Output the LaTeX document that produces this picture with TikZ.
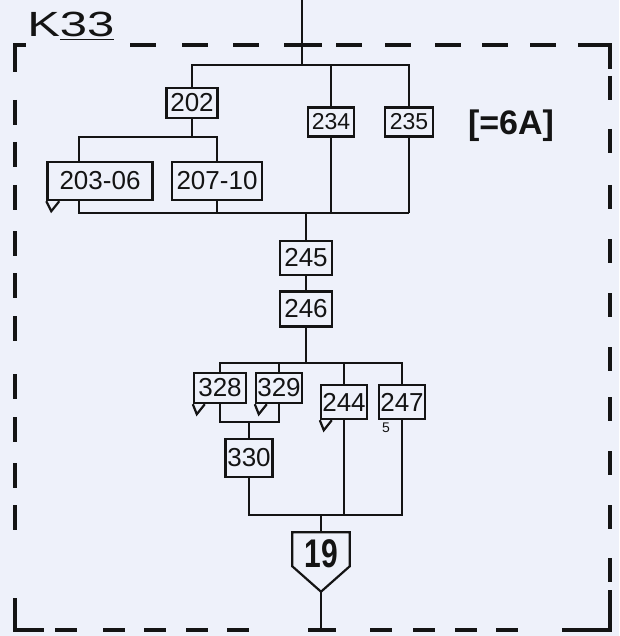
\documentclass[tikz,border=0pt]{standalone}
\usepackage{fontspec}
\setmainfont{Liberation Sans}
\usetikzlibrary{calc}
\definecolor{bg}{HTML}{EEF1FA}
\definecolor{ink}{HTML}{141414}
\begin{document}
\begin{tikzpicture}[x=1pt,y=-1pt,
  box/.style={draw=ink, line width=2.4pt, fill=bg, inner sep=0pt, text=ink,
              font=\fontsize{26}{26}\selectfont},
  smallbox/.style={box, font=\fontsize{23}{23}\selectfont},
  wire/.style={draw=ink, line width=2.2pt},
  tail/.style={draw=ink, line width=2.2pt, fill=bg, line join=miter},
  frame/.style={draw=ink, line width=4.8pt},
  corner/.style={frame, line join=miter}]
\fill[bg] (0,0) rectangle (619,636);
\useasboundingbox (0,0) rectangle (619,636);

% ---------- frame ----------
\draw[corner] (15,72) -- (15,45) -- (26,45);
\foreach \x in {130,182,233,336,385,435,482,530} \draw[frame] (\x,45) -- ++(26,0);
\draw[frame] (284,45) -- (322,45);
\draw[corner] (578,45) -- (610,45) -- (610,69);
\foreach \y in {100,142,185,231,273,316,374,417,463,505} \draw[frame] (15,\y) -- ++(0,25);
\foreach \y in {76,129,185,239,293,347,397,451,505,558} \draw[frame] (610,\y) -- ++(0,24);
\draw[corner] (15,598) -- (15,630) -- (44,630);
\foreach \x in {55,103,144,186,227,370,413,455,496} \draw[frame] (\x,630) -- ++(22,0);
\draw[frame] (308,630) -- (336,630);
\draw[corner] (562,630) -- (610,630) -- (610,590);

% ---------- title and remark ----------
\node[anchor=base west, inner sep=0pt, text=ink, xscale=1.4,
      font=\fontsize{35}{35}\selectfont] (title) at (27,37) {K\underline{33}};
\node[inner sep=0pt, text=ink, font=\bfseries\fontsize{34}{34}\selectfont] (note) at (511,126) {[=6A]};

% ---------- boxes ----------
\node[box, minimum width=51pt, minimum height=30pt] (b202) at (192,103) {202};
\node[box, minimum width=105pt, minimum height=38pt] (b203) at (100,181) {203-06};
\node[box, minimum width=90pt, minimum height=38pt] (b207) at (217,181) {207-10};
\node[smallbox, minimum width=46pt, minimum height=29pt] (b234) at (331,122) {234};
\node[smallbox, minimum width=48pt, minimum height=29pt] (b235) at (409,122) {235};
\node[box, minimum width=52pt, minimum height=34pt] (b245) at (306,258) {245};
\node[box, minimum width=52pt, minimum height=35pt] (b246) at (306,309) {246};
\node[box, minimum width=52pt, minimum height=30pt] (b328) at (220,388) {328};
\node[box, minimum width=46pt, minimum height=30pt] (b329) at (279,388) {329};
\node[box, minimum width=46pt, minimum height=34pt] (b244) at (344,402) {244};
\node[box, minimum width=46pt, minimum height=34pt] (b247) at (402,402) {247};
\node[box, minimum width=47pt, minimum height=38pt] (b330) at (249,458) {330};
\node[inner sep=0pt, text=ink, font=\fontsize{14}{14}\selectfont] (five) at (386,428) {5};

% callout tails
\draw[tail] (b203.south west) -- ++(5,10) -- ++(8,-10);
\draw[tail] (b328.south west) -- ++(4,10) -- ++(8,-10);
\draw[tail] (b329.south west) -- ++(4,10) -- ++(8,-10);
\draw[tail] (b244.south west) -- ++(4,10) -- ++(8,-10);

% ---------- junction node 19 ----------
\node[minimum width=57pt, minimum height=59pt, inner sep=0pt] (n19) at (321,562) {};
\draw[tail] (n19.north west) -- (n19.north east) -- ($(n19.north east)+(0,34)$)
   -- (n19.south) -- ($(n19.north west)+(0,34)$) -- cycle;
\node[inner sep=0pt, text=ink, font=\bfseries\fontsize{40}{40}\selectfont]
   (t19) at ($(n19.center)+(0,-8)$) {\scalebox{0.75}[1]{19}};

% ---------- coordinates ----------
\coordinate (in) at (302,0);
\coordinate (j1) at (302,65);
\coordinate (j2) at (192,137);
\coordinate (k235) at (409,213);
\coordinate (j3) at (306,213);
\coordinate (j4) at (306,363);
\coordinate (j5) at (249,422);
\coordinate (j6) at (321,515);
\coordinate (out) at (321,630);

% ---------- connectors ----------
\draw[wire] (in) -- (j1);
\draw[wire] (b202.north) |- (j1) -| (b235.north);
\draw[wire] (j1) -| (b234.north);
\draw[wire] (b202.south) -- (j2);
\draw[wire] (j2) -| ($(b203.north west)+(33,0)$);
\draw[wire] (j2) -| (b207.north);
\draw[wire] ($(b203.south west)+(33,0)$) |- (k235);
\draw[wire] (b235.south) -- (k235);
\draw[wire] (b207.south) -- (b207.south |- k235);
\draw[wire] (b234.south) -- (b234.south |- k235);
\draw[wire] (j3) -- (b245.north);
\draw[wire] (b245.south) -- (b246.north);
\draw[wire] (b246.south) -- (j4);
\draw[wire] (j4) -| (b328.north);
\draw[wire] (j4) -| (b329.north);
\draw[wire] (j4) -| (b244.north);
\draw[wire] (j4) -| (b247.north);
\draw[wire] (b328.south) |- (j5) -| (b329.south);
\draw[wire] (j5) -- (b330.north);
\draw[wire] (b330.south) |- (j6);
\draw[wire] (b244.south) |- (j6);
\draw[wire] (b247.south) |- (j6);
\draw[wire] (j6) -- (n19.north);
\draw[wire] (n19.south) -- (out);
\end{tikzpicture}
\end{document}
